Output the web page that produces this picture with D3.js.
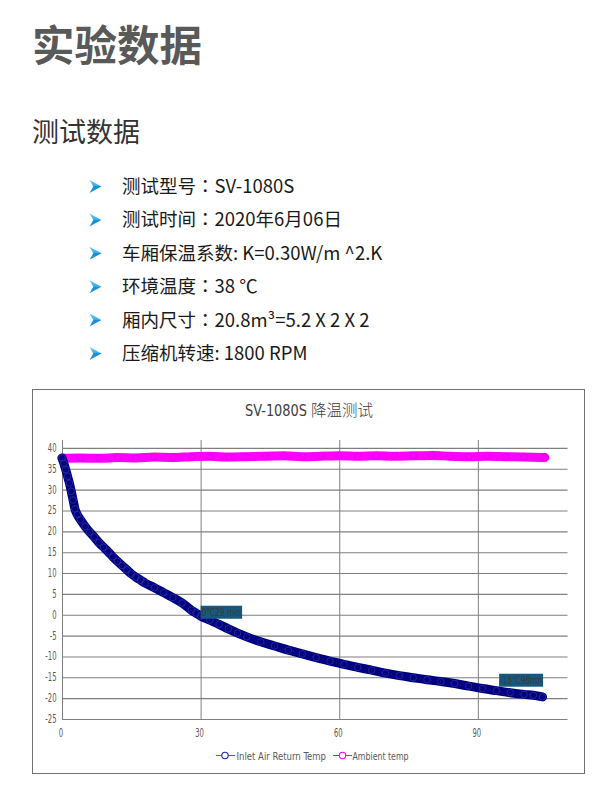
<!DOCTYPE html>
<html><head><meta charset="utf-8">
<script src="https://cdn.jsdelivr.net/npm/d3@7/dist/d3.min.js"></script>
<style>
html,body{margin:0;padding:0;background:#fff;}
svg{display:block;}
</style></head>
<body>
<svg id="c" width="602" height="806"></svg>
<script>
// ---------- data ----------
const pageTitle = "实验数据";
const sectionTitle = "测试数据";
const bulletLines = [
  "测试型号：SV-1080S",
  "测试时间：2020年6月06日",
  "车厢保温系数: K=0.30W/m ^2.K",
  "环境温度：38 ℃",
  "厢内尺寸：20.8m³=5.2 X 2 X 2",
  "压缩机转速: 1800 RPM"
];
const chartTitleLatin = "SV-1080S";
const chartTitleCJK = "降温测试";
const seriesNames = ["Inlet Air Return Temp", "Ambient temp"];

// time (min) and temperature (℃)
const inletTime = [0,0.4,0.8,1.2,1.6,2.0,2.4,2.8,3.3,4,5,6,7,8,9,10,11,12,13,14,15,16,17,18,20,22,24,26,28,29,30,32,34,36,38,40,43,46,49,52,55,58,61,64,67,70,73,76,79,82,85,88,91,94,97,100,102,104];
const inletTemp = [37.6,36.3,34.8,33.2,31.6,29.6,27.5,25.4,24.0,22.8,21.2,19.8,18.6,17.3,16.2,15.1,13.9,12.8,11.8,10.8,9.8,9.0,8.3,7.6,6.5,5.3,4.1,2.8,1.1,0.4,-0.3,-1.3,-2.3,-3.4,-4.4,-5.3,-6.5,-7.5,-8.5,-9.4,-10.3,-11.1,-11.9,-12.6,-13.3,-14.0,-14.6,-15.1,-15.6,-16.0,-16.5,-17.1,-17.7,-18.2,-18.7,-19.1,-19.3,-19.7];

const ambientTime = [0,4,8,12,16,20,24,28,32,36,40,44,48,52,56,60,64,68,72,76,80,84,88,92,96,100,104.5];
const ambientTemp = [37.5,37.6,37.5,37.7,37.6,37.8,37.7,37.9,38.0,37.8,37.9,38.0,38.1,37.9,38.0,38.1,38.0,38.1,38.0,38.1,38.2,38.0,37.9,38.0,37.9,37.8,37.7];

const xTicks = [0,30,60,90];
const yTicks = [-25,-20,-15,-10,-5,0,5,10,15,20,25,30,35,40];
const xDomain = [0,109.4];
const yDomain = [-25,41.9];

const annoTime = [30, 94.6];
const annoTemp = [0, -16.3];
const annoText = ["0℃29 min", "-18℃98mn"];

// ---------- drawing ----------
const svg = d3.select("#c");
svg.append("rect").attr("width",602).attr("height",806).attr("fill","#fff");

const CJK = "'Noto Sans CJK SC','Noto Sans',sans-serif";
const CJKTC = "'Noto Sans CJK TC','Noto Sans CJK SC',sans-serif";
const COND = "'DejaVu Sans Condensed','DejaVu Sans',sans-serif";

svg.append("text").attr("x",32).attr("y",61)
  .attr("font-family",CJK).attr("font-weight",700).attr("font-size",42.5)
  .attr("fill","#595959").text(pageTitle);

svg.append("text").attr("x",32).attr("y",142)
  .attr("font-family",CJK).attr("font-size",27).attr("fill","#333")
  .text(sectionTitle);

const grad = svg.append("defs").append("linearGradient").attr("id","ag")
  .attr("x1",0).attr("y1",0).attr("x2",0).attr("y2",1);
grad.append("stop").attr("offset","0").attr("stop-color","#6ccdf8");
grad.append("stop").attr("offset","0.5").attr("stop-color","#33aaec");
grad.append("stop").attr("offset","0.5").attr("stop-color","#1490dc");
grad.append("stop").attr("offset","1").attr("stop-color","#1e9ae0");

const bl = svg.append("g");
bulletLines.forEach((t,i)=>{
  const by = 193 + i*33.4;
  bl.append("path").attr("transform",`translate(89.5,${by-13})`)
    .attr("d","M0,0 L12,6.5 L0,13 L3.8,6.5 Z").attr("fill","url(#ag)");
  const tx = bl.append("text").attr("x",122).attr("y",by)
    .attr("font-family",CJK).attr("font-size",18.5).attr("fill","#1a1a1a");
  const parts = t.split("：");
  parts.forEach((p,j)=>{
    if(j>0) tx.append("tspan").attr("font-family",CJKTC).text("：");
    tx.append("tspan").text(p);
  });
});

// chart frame
svg.append("rect").attr("x",32.5).attr("y",389.5).attr("width",552).attr("height",384)
  .attr("fill","#fff").attr("stroke","#707070").attr("stroke-width",1);

const x = d3.scaleLinear().domain(xDomain).range([62,567.5]);
const y = d3.scaleLinear().domain(yDomain).range([719,440]);

// gridlines via axes
const gy = svg.append("g").attr("transform",`translate(${x(0)},0)`)
  .call(d3.axisLeft(y).tickValues(yTicks).tickSize(-(x(xDomain[1])-x(0))).tickFormat(""));
gy.select(".domain").remove();
gy.selectAll("line").attr("stroke","#7f7f7f").attr("stroke-width",1.1);

const gx = svg.append("g").attr("transform",`translate(0,${y(yDomain[0])})`)
  .call(d3.axisBottom(x).tickValues(xTicks).tickSize(-(y(yDomain[0])-y(yDomain[1]))).tickFormat(""));
gx.select(".domain").remove();
gx.selectAll("line").attr("stroke","#7f7f7f").attr("stroke-width",1);

// tick labels (condensed)
const lab = svg.append("g").attr("font-family",COND).attr("font-size",11.5).attr("fill","#595959");
yTicks.forEach(v=>{
  lab.append("text").attr("transform",`translate(56.5,${y(v)+4}) scale(0.66,1)`)
    .attr("text-anchor","end").text(v);
});
xTicks.forEach(v=>{
  lab.append("text").attr("transform",`translate(${x(v)-1},${737}) scale(0.66,1)`)
    .attr("text-anchor","middle").text(v);
});

// chart title
svg.append("text").attr("x",245).attr("y",416).attr("font-family",COND).attr("font-size",16)
  .attr("fill","#404040").attr("textLength",62).attr("lengthAdjust","spacingAndGlyphs").text(chartTitleLatin);
svg.append("text").attr("x",311).attr("y",416).attr("font-family",CJK).attr("font-size",15.5)
  .attr("font-weight",300).attr("fill","#404040").text(chartTitleCJK);

// series
const ambient = ambientTime.map((t,i)=>({t,v:ambientTemp[i]}));
const inlet = inletTime.map((t,i)=>({t,v:inletTemp[i]}));
const line = d3.line().x(d=>x(d.t)).y(d=>y(d.v)).curve(d3.curveMonotoneX);

svg.append("path").datum(ambient).attr("d",line).attr("fill","none")
  .attr("stroke","#ff00ff").attr("stroke-width",9).attr("stroke-linecap","round").attr("stroke-linejoin","round");
svg.append("g").selectAll("circle").data(ambient).join("circle")
  .attr("cx",d=>x(d.t)).attr("cy",d=>y(d.v)).attr("r",3.4)
  .attr("fill","none").attr("stroke","#e600e6").attr("stroke-width",1);

svg.append("path").datum(inlet).attr("d",line).attr("fill","none")
  .attr("stroke","#000080").attr("stroke-width",9).attr("stroke-linecap","round").attr("stroke-linejoin","round");
svg.append("path").datum(inlet).attr("d",line).attr("fill","none")
  .attr("stroke","#e02020").attr("stroke-width",0.5).attr("stroke-dasharray","1 9");
svg.append("g").selectAll("circle").data(inlet).join("circle")
  .attr("cx",d=>x(d.t)).attr("cy",d=>y(d.v)).attr("r",3.3)
  .attr("fill","none").attr("stroke","#2b3aa0").attr("stroke-width",0.7);

// annotations
annoText.forEach((s,i)=>{
  const ax = x(annoTime[i]), ay = y(annoTemp[i]);
  const w = i===0 ? 41.5 : 44;
  svg.append("rect").attr("x",ax).attr("y",ay-9).attr("width",w).attr("height",13)
    .attr("fill","#17587f");
  svg.append("text").attr("x",ax+1).attr("y",ay+1.5).attr("font-family",COND).attr("font-size",11)
    .attr("fill","#3a3a3a").attr("textLength",w-2).attr("lengthAdjust","spacingAndGlyphs").text(s);
});

// legend
const legY = 755.5;
const leg = [
  {x0:216, x1:235, cx:225, col:"#1a2a9a", tx:236.5, tw:89.5, name:seriesNames[0]},
  {x0:333, x1:352, cx:342.5, col:"#ff00ff", tx:352.5, tw:56, name:seriesNames[1]}
];
leg.forEach(l=>{
  svg.append("line").attr("x1",l.x0).attr("x2",l.x1).attr("y1",legY).attr("y2",legY)
    .attr("stroke","#ff2020").attr("stroke-width",1);
  svg.append("circle").attr("cx",l.cx).attr("cy",legY).attr("r",3.2)
    .attr("fill","#fff").attr("stroke",l.col).attr("stroke-width",1.1);
  svg.append("text").attr("x",l.tx).attr("y",legY+4).attr("font-family",COND).attr("font-size",11)
    .attr("fill","#595959").attr("textLength",l.tw).attr("lengthAdjust","spacingAndGlyphs").text(l.name);
});
</script>
</body></html>
